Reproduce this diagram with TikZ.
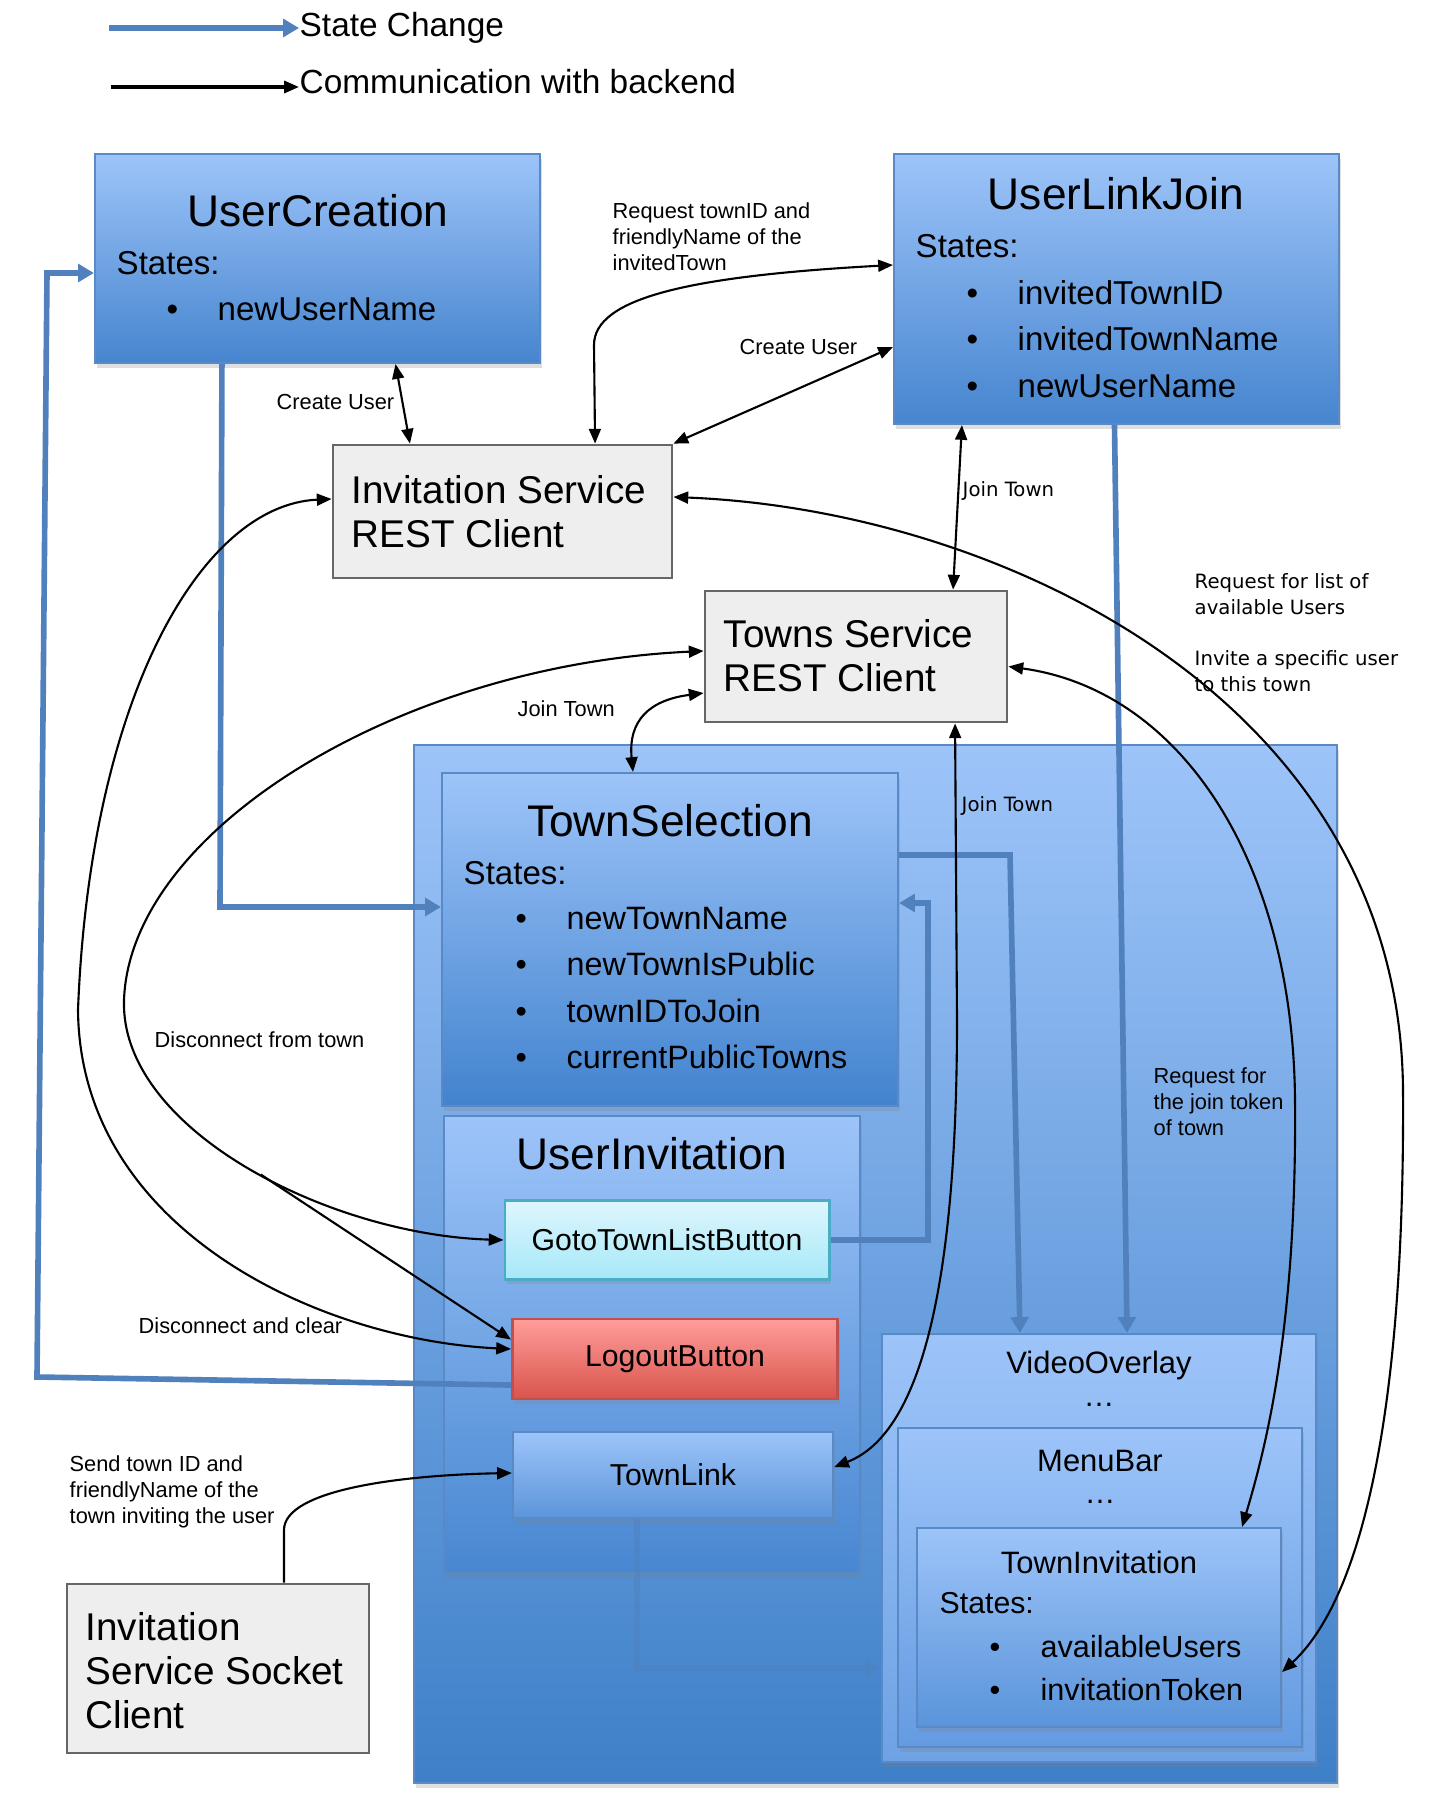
\documentclass[tikz,border=0pt]{standalone}
\usepackage{fontspec}
\setmainfont{Liberation Sans}
\newfontfamily\verdfont{DejaVu Sans}
\usepackage{xcolor}
\usepackage{tikz}
\usetikzlibrary{arrows.meta, fit, shadows}

\definecolor{boxtop}{RGB}{157,196,249}
\definecolor{boxbot}{RGB}{70,133,207}
\definecolor{boxline}{RGB}{90,138,198}
\definecolor{statearr}{RGB}{80,129,189}
\definecolor{greyfill}{RGB}{238,238,238}
\definecolor{greyline}{RGB}{102,102,102}
\definecolor{gototop}{RGB}{222,246,253}
\definecolor{gotobot}{RGB}{166,232,248}
\definecolor{gotoline}{RGB}{75,172,198}
\definecolor{logtop}{RGB}{255,157,154}
\definecolor{logbot}{RGB}{217,84,76}
\definecolor{logline}{RGB}{192,80,77}

\newcommand{\fsz}[2]{\fontsize{#1}{#2}\selectfont}
\newcommand{\stbul}{\makebox[14.5pt][l]{\textbullet}}

\begin{document}
\begin{tikzpicture}[x=0.01cm, y=-0.01cm, >={Triangle[length=4.2pt,width=3.4pt]},
  bluebox/.style={draw=boxline, line width=0.6pt, top color=boxtop, bottom color=boxbot, inner sep=0pt,
    drop shadow={opacity=0.25, shadow xshift=0.6pt, shadow yshift=-1.4pt}},
  greybox/.style={draw=greyline, fill=greyfill, line width=0.8pt, inner sep=0pt},
  txt/.style={inner sep=0pt},
  boxtitle/.style={txt, font=\fsz{12.6}{15}},
  states/.style={txt, anchor=west, align=left, font=\fsz{9.4}{13.2}},
  lbl/.style={txt, anchor=west, align=left, font=\fsz{6.2}{7.4}},
  vlbl/.style={txt, anchor=west, align=left, font=\verdfont\fsz{5.6}{7.4}},
  backend/.style={<->, line width=0.6pt},
  statechange/.style={-{Triangle[length=4.5pt,width=5pt]}, line width=1.6pt, statearr}]

  \useasboundingbox (0,0) rectangle (1442,1800);
  \fill[white] (0,0) rectangle (1442,1800);

  % legend
  \coordinate (lgs) at (109,28);
  \coordinate (lgc) at (111,87);
  \node[txt, anchor=west, font=\fsz{9.5}{11}] (lgstate) at (299,28) {State Change};
  \node[txt, anchor=west, font=\fsz{9.5}{11}] (lgcomm) at (299,82) {Communication with backend};
  \draw[statechange] (lgs) -- (lgstate.west |- lgs);
  \draw[->, line width=0.9pt] (lgc) -- (lgcomm.west |- lgc);

  % containers
  \node[bluebox, bottom color={rgb,255:red,62;green,128;blue,200}, fit={(414,745) (1337,1783)}] (town) {};
  \node[bluebox, bottom color={rgb,255:red,66;green,131;blue,206}, fit={(442,773) (898,1106)}] (ts) {};
  \node[bluebox, bottom color={rgb,255:red,72;green,135;blue,209}, fit={(444,1116) (860,1573)}] (ui) {};
  \node[bluebox, bottom color={rgb,255:red,110;green,162;blue,228}, fit={(882,1334) (1316,1762)}] (vo) {};
  \node[bluebox, bottom color={rgb,255:red,100;green,155;blue,225}, fit={(898,1428) (1302,1747)}] (mb) {};
  \node[bluebox, bottom color={rgb,255:red,90;green,148;blue,218}, fit={(917,1528) (1281,1727)}] (ti) {};

  % buttons
  \node[draw=gotoline, line width=0.8pt, top color=gototop, bottom color=gotobot, inner sep=0pt,
    minimum width=3.24cm, minimum height=0.79cm, font=\fsz{8.6}{10},
    drop shadow={opacity=0.25, shadow xshift=0.6pt, shadow yshift=-1.4pt}] (gt) at (667,1240) {GotoTownListButton};
  \node[draw=logline, line width=0.8pt, top color=logtop, bottom color=logbot, inner sep=0pt,
    minimum width=3.25cm, minimum height=0.80cm, font=\fsz{8.6}{10},
    drop shadow={opacity=0.25, shadow xshift=0.6pt, shadow yshift=-1.4pt}] (lb) at (675,1359) {LogoutButton};
  \node[bluebox, bottom color={rgb,255:red,92;green,149;blue,218}, minimum width=3.20cm, minimum height=0.86cm,
    font=\fsz{8.6}{10}] (tl) at (673,1475) {TownLink};

  % top boxes
  \node[bluebox, fit={(95,154) (540,363)}] (uc) {};
  \node[bluebox, fit={(894,154) (1339,424)}] (uj) {};
  \node[greybox, fit={(333,445) (672,578)}] (ir) {};
  \node[greybox, fit={(705,591) (1007,722)}] (tw) {};
  \node[greybox, fit={(67,1584) (369,1753)}] (sc) {};

  % box texts
  \node[boxtitle] (uctitle) at (318,211) {UserCreation};
  \node[states] (ucstates) at (116,263) {States:};
  \node[states] (ucitems) at (166,309) {\stbul newUserName};

  \node[boxtitle] (ujtitle) at (1116,194) {UserLinkJoin};
  \node[states] (ujstates) at (915,246) {States:};
  \node[states] (ujitems) at (966,339) {\stbul invitedTownID\\ \stbul invitedTownName\\ \stbul newUserName};

  \node[boxtitle] (tstitle) at (670,821) {TownSelection};
  \node[states] (tsstates) at (463,873) {States:};
  \node[states, font=\fsz{9.2}{13.2}] (tsitems) at (515,988) {\stbul newTownName\\ \stbul newTownIsPublic\\ \stbul townIDToJoin\\ \stbul currentPublicTowns};

  \node[boxtitle] (uititle) at (652,1154) {UserInvitation};

  \node[txt, font=\fsz{8.8}{10}] (votitle) at (1099,1365) {VideoOverlay};
  \node[txt, font=\fsz{8.8}{10}] (vodots) at (1099,1405) {…};
  \node[txt, font=\fsz{8.8}{10}] (mbtitle) at (1100,1461) {MenuBar};
  \node[txt, font=\fsz{8.8}{10}] (mbdots) at (1100,1502) {…};
  \node[txt, font=\fsz{8.8}{10}] (tititle) at (1099,1562) {TownInvitation};
  \node[txt, anchor=west, font=\fsz{8.6}{10}] (tistates) at (939,1603) {States:};
  \node[txt, anchor=west, align=left, font=\fsz{8.7}{12}] (tiitems) at (989,1668) {\stbul availableUsers\\ \stbul invitationToken};

  \node[txt, anchor=west, align=left, font=\fsz{11}{12.5}] (irtext) at (351,512) {Invitation Service\\REST Client};
  \node[txt, anchor=west, align=left, font=\fsz{11}{12.5}] (twtext) at (723,656) {Towns Service\\REST Client};
  \node[txt, anchor=west, align=left, font=\fsz{11}{12.5}] (sctext) at (85,1671) {Invitation\\Service Socket\\Client};

  % state changes
  \coordinate (lbturn) at (37,1377);
  \coordinate (ucturn) at (47,273);
  \draw[statechange] ([yshift=-0.26cm]lb.west) -- (lbturn) -- (ucturn) -- ([yshift=-0.145cm]uc.west);
  \coordinate (ucbend) at (220,907);
  \draw[statechange] ([xshift=-0.955cm]uc.south) -- (ucbend) -- (ts.west |- ucbend);
  \coordinate (tsbend) at (1010,855);
  \draw[statechange] (ts.east |- tsbend) -- (tsbend) -- ([xshift=-0.79cm]vo.north);
  \draw[statechange] ([xshift=-0.02cm]uj.south) -- ([xshift=0.28cm]vo.north);
  \coordinate (gtturn) at (928,903);
  \draw[statechange] (gt.east) -- (gt.east -| gtturn) -- (gtturn) -- (gtturn -| ts.east);
  \coordinate (tlbend) at (637,1668);
  \draw[statechange, opacity=0.45] (tlbend |- tl.south) -- (tlbend) -- (tlbend -| vo.west);

  % communication with backend
  \draw[backend] ([xshift=0.925cm]ir.north) -- (594,345) .. controls (594,298) and (690,276) .. ([yshift=0.24cm]uj.west);
  \draw[backend] (ir.north east) -- ([yshift=-0.58cm]uj.west);
  \draw[backend] ([xshift=0.78cm]uc.south) -- ([xshift=-0.925cm]ir.north);
  \draw[backend] ([xshift=-1.545cm]uj.south) -- ([xshift=0.97cm]tw.north);
  \draw[backend] ([yshift=0.145cm]ir.east) .. controls (1000,510) and (1400,700) .. (1403,1090)
    .. controls (1405,1420) and (1360,1600) .. ([yshift=-0.445cm]ti.east);
  \draw[backend] ([yshift=-0.1cm]tw.east) .. controls (1180,690) and (1293,860) .. (1295,1100)
    .. controls (1297,1330) and (1265,1450) .. ([xshift=1.43cm]ti.north);
  \draw[backend] ([xshift=0.99cm]tw.south) -- (957,1020) .. controls (957,1250) and (930,1430) .. ([yshift=0.08cm]tl.east);
  \draw[backend] ([yshift=-0.365cm]tw.west) .. controls (650,700) and (628,720) .. ([xshift=-0.37cm]ts.north);
  \draw[backend] ([yshift=0.055cm]tw.west) .. controls (400,665) and (130,830) .. (124,1000)
    .. controls (120,1130) and (330,1235) .. coordinate[pos=0.53] (dsplit) (gt.west);
  \draw[->, line width=0.6pt] (dsplit) -- ([yshift=-0.22cm]lb.north west);
  \draw[backend] ([yshift=0.125cm]ir.west) .. controls (200,505) and (90,700) .. (78,1010)
    .. controls (80,1230) and (320,1340) .. ([yshift=0.1cm]lb.west);
  \draw[->, line width=0.6pt] ([xshift=0.66cm]sc.north) -- (284,1530) .. controls (284,1490) and (400,1475) .. ([yshift=0.02cm]tl.west);

  % labels
  \node[lbl] (lreq) at (612,237) {Request townID and\\friendlyName of the\\invitedTown};
  \node[lbl] (lcreate1) at (739,347) {Create User};
  \node[lbl] (lcreate2) at (276,402) {Create User};
  \node[vlbl] (ljoin1) at (962,491) {Join Town};
  \node[vlbl] (llist) at (1194,594) {Request for list of\\available Users};
  \node[vlbl] (linvite) at (1194,671) {Invite a specific user\\to this town};
  \node[lbl] (ljoin2) at (517,709) {Join Town};
  \node[vlbl] (ljoin3) at (961,806) {Join Town};
  \node[lbl] (ldisc) at (154,1040) {Disconnect from town};
  \node[lbl] (ltoken) at (1153,1102) {Request for\\the join token\\of town};
  \node[lbl] (lclear) at (138,1326) {Disconnect and clear};
  \node[lbl] (lsend) at (69,1492) {Send town ID and\\friendlyName of the\\town inviting the user};
\end{tikzpicture}
\end{document}
